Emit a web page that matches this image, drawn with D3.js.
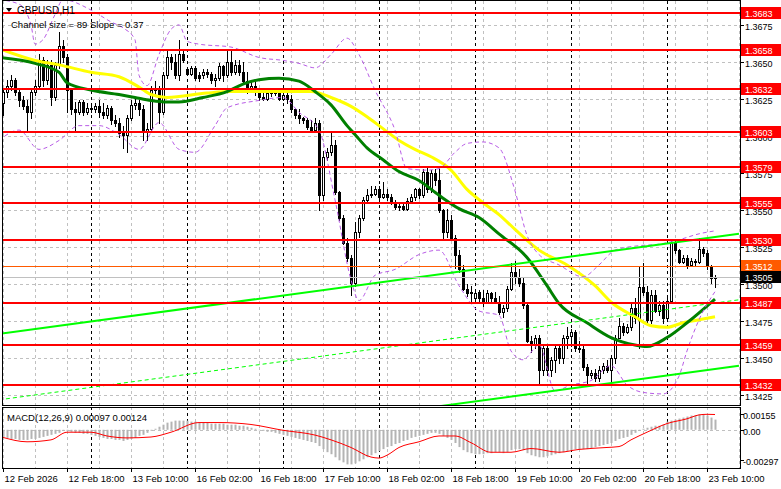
<!DOCTYPE html>
<html><head><meta charset="utf-8">
<script src="https://cdn.jsdelivr.net/npm/d3@7"></script>
<style>body{margin:0;background:#fff;}svg{display:block;font-family:"Liberation Sans",Arial,sans-serif;}</style>
</head><body><svg id="c" width="781" height="489"></svg>
<script>
const symbolTitle = "GBPUSD,H1";
const channelText = "Channel size = 89 Slope = 0.37";
const macdText = "MACD(12,26,9) 0.00097 0.00124";
const firstBar = 2;
const openP = [1.3622,1.3630,1.3634,1.3638,1.3630,1.3624,1.3620,1.3616,1.3630,1.3634,
1.3651,1.3638,1.3648,1.3626,1.3648,1.3661,1.3653,1.3631,1.3618,1.3616,
1.3623,1.3616,1.3619,1.3618,1.3620,1.3616,1.3614,1.3619,1.3611,1.3609,
1.3602,1.3601,1.3612,1.3621,1.3622,1.3618,1.3603,1.3605,1.3631,1.3632,
1.3616,1.3641,1.3653,1.3650,1.3641,1.3655,1.3645,1.3642,1.3646,1.3641,
1.3641,1.3643,1.3642,1.3638,1.3639,1.3647,1.3641,1.3650,1.3643,1.3648,
1.3643,1.3637,1.3631,1.3634,1.3630,1.3626,1.3625,1.3629,1.3630,1.3629,
1.3625,1.3628,1.3625,1.3618,1.3614,1.3612,1.3611,1.3606,1.3604,1.3609,
1.3560,1.3586,1.3589,1.3594,1.3562,1.3545,1.3528,1.3518,1.3501,1.3535,
1.3545,1.3557,1.3560,1.3561,1.3564,1.3559,1.3561,1.3559,1.3555,1.3552,
1.3553,1.3551,1.3556,1.3559,1.3564,1.3560,1.3576,1.3564,1.3575,1.3570,
1.3550,1.3535,1.3543,1.3531,1.3520,1.3510,1.3497,1.3494,1.3491,1.3495,
1.3491,1.3487,1.3494,1.3491,1.3488,1.3481,1.3484,1.3497,1.3508,1.3505,
1.3501,1.3486,1.3462,1.3460,1.3464,1.3442,1.3457,1.3442,1.3449,1.3457,
1.3450,1.3464,1.3465,1.3468,1.3457,1.3456,1.3444,1.3439,1.3440,1.3437,
1.3442,1.3445,1.3442,1.3450,1.3464,1.3472,1.3468,1.3471,1.3484,1.3476,
1.3498,1.3495,1.3476,1.3493,1.3482,1.3486,1.3477,1.3489,1.3528,1.3523,
1.3515,1.3518,1.3513,1.3516,1.3515,1.3524,1.3521,1.3512,1.3504];
const highP = [1.3632,1.3638,1.3641,1.3639,1.3632,1.3627,1.3624,1.3632,1.3638,1.3655,
1.3653,1.3651,1.3651,1.3650,1.3670,1.3665,1.3655,1.3632,1.3623,1.3624,
1.3624,1.3622,1.3622,1.3622,1.3624,1.3622,1.3621,1.3620,1.3614,1.3612,
1.3607,1.3614,1.3624,1.3626,1.3624,1.3621,1.3609,1.3634,1.3637,1.3634,
1.3643,1.3658,1.3655,1.3655,1.3665,1.3659,1.3646,1.3647,1.3647,1.3643,
1.3645,1.3645,1.3643,1.3642,1.3649,1.3648,1.3658,1.3659,1.3651,1.3651,
1.3650,1.3643,1.3637,1.3638,1.3632,1.3630,1.3631,1.3632,1.3631,1.3631,
1.3630,1.3630,1.3628,1.3619,1.3618,1.3613,1.3612,1.3611,1.3612,1.3611,
1.3590,1.3592,1.3603,1.3597,1.3563,1.3547,1.3531,1.3520,1.3542,1.3547,
1.3559,1.3564,1.3566,1.3566,1.3566,1.3569,1.3564,1.3561,1.3557,1.3555,
1.3555,1.3558,1.3561,1.3565,1.3565,1.3578,1.3580,1.3577,1.3578,1.3580,
1.3551,1.3551,1.3547,1.3533,1.3523,1.3513,1.3500,1.3499,1.3497,1.3496,
1.3496,1.3496,1.3495,1.3495,1.3492,1.3486,1.3499,1.3514,1.3516,1.3510,
1.3504,1.3487,1.3465,1.3466,1.3466,1.3459,1.3459,1.3451,1.3459,1.3459,
1.3466,1.3471,1.3470,1.3469,1.3462,1.3459,1.3446,1.3442,1.3443,1.3445,
1.3447,1.3449,1.3452,1.3466,1.3477,1.3474,1.3473,1.3488,1.3491,1.3512,
1.3514,1.3499,1.3496,1.3496,1.3489,1.3489,1.3493,1.3530,1.3530,1.3524,
1.3520,1.3520,1.3518,1.3517,1.3531,1.3525,1.3523,1.3513,1.3506];
const lowP = [1.3614,1.3626,1.3631,1.3628,1.3620,1.3618,1.3603,1.3612,1.3628,1.3632,
1.3634,1.3635,1.3621,1.3624,1.3646,1.3650,1.3616,1.3615,1.3603,1.3615,
1.3614,1.3615,1.3616,1.3616,1.3613,1.3612,1.3612,1.3608,1.3607,1.3599,
1.3592,1.3589,1.3611,1.3618,1.3614,1.3597,1.3597,1.3603,1.3627,1.3609,
1.3615,1.3639,1.3645,1.3639,1.3638,1.3650,1.3641,1.3641,1.3638,1.3637,
1.3639,1.3640,1.3636,1.3634,1.3638,1.3637,1.3640,1.3641,1.3642,1.3641,
1.3635,1.3629,1.3630,1.3628,1.3624,1.3624,1.3624,1.3627,1.3628,1.3624,
1.3624,1.3622,1.3616,1.3612,1.3609,1.3609,1.3605,1.3603,1.3603,1.3550,
1.3557,1.3584,1.3587,1.3561,1.3543,1.3527,1.3516,1.3493,1.3499,1.3532,
1.3543,1.3555,1.3559,1.3560,1.3557,1.3558,1.3557,1.3554,1.3551,1.3550,
1.3550,1.3550,1.3555,1.3557,1.3558,1.3559,1.3562,1.3562,1.3567,1.3549,
1.3531,1.3532,1.3530,1.3511,1.3508,1.3496,1.3492,1.3487,1.3489,1.3489,
1.3485,1.3487,1.3489,1.3487,1.3480,1.3478,1.3482,1.3496,1.3501,1.3499,
1.3484,1.3461,1.3454,1.3457,1.3432,1.3439,1.3439,1.3438,1.3441,1.3447,
1.3447,1.3457,1.3458,1.3455,1.3454,1.3442,1.3433,1.3437,1.3435,1.3435,
1.3440,1.3441,1.3433,1.3447,1.3464,1.3466,1.3467,1.3469,1.3474,1.3457,
1.3493,1.3474,1.3474,1.3481,1.3479,1.3474,1.3476,1.3488,1.3521,1.3514,
1.3514,1.3511,1.3512,1.3512,1.3514,1.3519,1.3510,1.3501,1.3498];
const closeP = [1.3630,1.3634,1.3638,1.3630,1.3624,1.3620,1.3616,1.3630,1.3634,1.3651,
1.3638,1.3648,1.3626,1.3648,1.3661,1.3653,1.3631,1.3618,1.3616,1.3623,
1.3616,1.3619,1.3618,1.3620,1.3616,1.3614,1.3619,1.3611,1.3609,1.3602,
1.3601,1.3612,1.3621,1.3622,1.3618,1.3603,1.3605,1.3631,1.3632,1.3616,
1.3641,1.3653,1.3650,1.3641,1.3655,1.3651,1.3642,1.3646,1.3639,1.3639,
1.3643,1.3642,1.3638,1.3639,1.3647,1.3641,1.3650,1.3643,1.3648,1.3643,
1.3637,1.3631,1.3634,1.3630,1.3626,1.3625,1.3629,1.3630,1.3629,1.3625,
1.3628,1.3625,1.3618,1.3614,1.3612,1.3611,1.3606,1.3604,1.3609,1.3560,
1.3586,1.3589,1.3594,1.3562,1.3545,1.3528,1.3518,1.3501,1.3535,1.3545,
1.3557,1.3560,1.3561,1.3564,1.3559,1.3561,1.3559,1.3555,1.3552,1.3553,
1.3551,1.3556,1.3559,1.3564,1.3560,1.3576,1.3564,1.3575,1.3570,1.3550,
1.3535,1.3543,1.3531,1.3520,1.3510,1.3497,1.3494,1.3495,1.3494,1.3491,
1.3487,1.3494,1.3491,1.3488,1.3481,1.3484,1.3497,1.3508,1.3505,1.3501,
1.3486,1.3462,1.3460,1.3464,1.3442,1.3457,1.3442,1.3449,1.3457,1.3450,
1.3464,1.3465,1.3468,1.3457,1.3456,1.3444,1.3439,1.3440,1.3437,1.3442,
1.3445,1.3442,1.3450,1.3464,1.3472,1.3468,1.3471,1.3484,1.3477,1.3498,
1.3495,1.3476,1.3493,1.3482,1.3486,1.3477,1.3489,1.3528,1.3523,1.3515,
1.3518,1.3513,1.3516,1.3515,1.3524,1.3521,1.3512,1.3504,1.3505];
const macdHist = [-0.0007,-0.0008,-0.0009,-0.0009,-0.0010,-0.0010,-0.0010,-0.0009,-0.0009,-0.0008,-0.0007,-0.0006,
-0.0005,-0.0004,-0.0003,-0.0001,
-0.0001,-0.0002,-0.0003,-0.0003,-0.0004,-0.0004,
-0.0005,-0.0006,-0.0007,-0.0008,-0.0009,-0.0009,-0.0010,-0.0010,-0.0011,-0.0010,
-0.0009,-0.0008,-0.0006,-0.0005,-0.0003,-0.0001,0.0001,
0.0003,0.0005,0.0007,0.0008,0.0009,0.0009,0.0009,
0.0009,0.0008,0.0008,0.0007,0.0007,0.0007,0.0006,0.0006,0.0006,0.0006,0.0005,0.0005,0.0005,0.0004,0.0004,0.0003,
0.0002,0.0001,0.0000,-0.0001,-0.0002,-0.0002,-0.0003,-0.0004,-0.0005,
-0.0006,-0.0007,-0.0008,-0.0009,-0.0010,-0.0011,-0.0012,-0.0013,-0.0016,
-0.0019,-0.0022,-0.0024,-0.0027,-0.0030,-0.0032,-0.0034,-0.0034,-0.0033,
-0.0031,-0.0029,-0.0027,-0.0025,-0.0023,-0.0021,
-0.0019,-0.0017,-0.0016,-0.0014,-0.0013,-0.0011,-0.0010,-0.0008,-0.0007,-0.0006,
-0.0005,-0.0004,-0.0003,-0.0003,-0.0004,-0.0006,-0.0008,-0.0010,-0.0013,
-0.0017,-0.0020,-0.0022,-0.0023,-0.0024,-0.0024,-0.0024,-0.0023,-0.0023,
-0.0022,-0.0022,-0.0023,-0.0022,-0.0020,-0.0019,-0.0019,-0.0020,-0.0023,-0.0025,
-0.0026,-0.0027,-0.0027,-0.0026,-0.0025,-0.0024,-0.0023,-0.0022,-0.0021,
-0.0020,-0.0019,-0.0019,-0.0019,-0.0019,-0.0018,-0.0017,-0.0016,-0.0015,
-0.0014,-0.0013,-0.0011,-0.0009,-0.0008,-0.0007,-0.0005,-0.0003,-0.0001,
0.0001,0.0002,0.0003,0.0004,0.0004,0.0005,0.0008,0.0009,
0.0010,0.0011,0.0012,0.0013,0.0014,0.0014,0.0015,0.0015,0.0014,0.0012,0.0010];
const signalBars = [2,8,14,18,24,28,33,39,44,51,56,64,72,80,84,89,94,96,98,101,106,111,115,119,124,129,134,141,146,153,156,159,163,168,173,176,178,180];
const signalVals = [-0.00075,-0.00118,-0.00099,-0.00024,-0.00024,-0.00061,-0.00080,-0.00071,-0.00024,0.00071,0.00071,0.00052,-0.00005,-0.00052,-0.00099,-0.00174,-0.00268,-0.00278,-0.00250,-0.00174,-0.00118,-0.00061,-0.00061,-0.00127,-0.00221,-0.00221,-0.00184,-0.00221,-0.00193,-0.00174,-0.00165,-0.00099,-0.00024,0.00061,0.00108,0.00146,0.00152,0.00150];
const slowMaBars = [1,10,16,24,31,36,39,43,53,59,66,72,79,84,89,93,97,101,105,109,114,118,122,126,130,136,143,150,154,160,164,168,172,176,180];
const slowMaVals = [1.3659,1.3651,1.3648,1.3643,1.3640,1.3633,1.3628,1.3626,1.3629,1.3630,1.3630,1.3630,1.3630,1.3626,1.3620,1.3613,1.3605,1.3597,1.3591,1.3586,1.3577,1.3564,1.3555,1.3547,1.3537,1.3523,1.3513,1.3499,1.3488,1.3478,1.3472,1.3471,1.3474,1.3476,1.3478];
const fastMaBars = [1,10,16,18,24,31,35,39,43,46,52,58,62,66,71,76,80,84,88,90,93,97,101,106,111,116,121,126,133,138,141,148,154,160,163,168,173,180];
const fastMaVals = [1.3653,1.3649,1.3643,1.3636,1.3631,1.3628,1.3626,1.3624,1.3623,1.3623,1.3626,1.3630,1.3635,1.3638,1.3639,1.3637,1.3630,1.3621,1.3607,1.3601,1.3592,1.3584,1.3576,1.3570,1.3560,1.3551,1.3545,1.3534,1.3518,1.3499,1.3487,1.3474,1.3464,1.3459,1.3458,1.3464,1.3474,1.3490];
const upperBandBars = [1,6,9,10,12,15,17,24,29,32,35,36,38,41,44,46,48,51,59,66,72,76,80,84,88,91,95,100,103,108,111,115,118,122,126,130,133,136,141,147,151,155,161,166,171,176,180];
const upperBandVals = [1.3692,1.3689,1.3675,1.3662,1.3665,1.3682,1.3692,1.3685,1.3677,1.3673,1.3665,1.3641,1.3634,1.3655,1.3672,1.3675,1.3664,1.3662,1.3660,1.3653,1.3651,1.3649,1.3646,1.3655,1.3666,1.3655,1.3631,1.3604,1.3578,1.3577,1.3578,1.3589,1.3595,1.3596,1.3592,1.3563,1.3533,1.3520,1.3513,1.3505,1.3513,1.3523,1.3526,1.3527,1.3530,1.3534,1.3536];
const lowerBandBars = [1,6,11,16,21,26,31,36,41,46,50,55,58,66,72,76,81,85,89,91,95,100,106,111,116,121,126,129,132,136,140,144,149,154,158,162,167,171,173,176,180];
const lowerBandVals = [1.3597,1.3604,1.3591,1.3597,1.3607,1.3607,1.3601,1.3591,1.3609,1.3591,1.3589,1.3607,1.3619,1.3624,1.3626,1.3616,1.3604,1.3557,1.3503,1.3489,1.3506,1.3510,1.3520,1.3523,1.3499,1.3482,1.3479,1.3455,1.3449,1.3459,1.3428,1.3432,1.3435,1.3445,1.3432,1.3427,1.3426,1.3438,1.3455,1.3476,1.3495];
const channelBars = [1,186];
const channelMid = [1.3422,1.34895];
const channelHalf = 0.00445;
const levelPrices = [1.3683,1.3658,1.3632,1.3603,1.3579,1.3555,1.3530,1.3487,1.3459,1.3432];
const orangeLevel = 1.3512;
const bidPrice = 1.3505;
const priceTicks = [1.3675,1.3650,1.3625,1.3600,1.3575,1.3550,1.3525,1.3500,1.3475,1.3450,1.3425];
const timeLabelBars = [2,18,34,50,66,82,98,114,130,146,162,178];
const timeLabels = ["12 Feb 2026","12 Feb 18:00","13 Feb 10:00","16 Feb 02:00","16 Feb 18:00","17 Feb 10:00","18 Feb 02:00","18 Feb 18:00","19 Feb 10:00","20 Feb 02:00","20 Feb 18:00","23 Feb 10:00"];
const daySeparatorBars = [24,48,72,96,120,144,168];
const macdTicks = [0.00155,0,-0.00297];
const macdTickLabels = ["0.00155","0.00","-0.00297"];

const svg = d3.select("#c");
const R = 740, MT = 1, MB = 405, ST = 407, SB = 468;
const x = d3.scaleLinear().domain([2,180]).range([3,715]);
const y = d3.scaleLinear().domain([1.3432,1.3683]).range([385,13]);
const ym = d3.scaleLinear().domain([-0.00297,0.00155]).range([460,414]);
const FS = "9.5px", AFS = "9px";

const defs = svg.append("defs");
defs.append("clipPath").attr("id","cm").append("rect").attr("x",2).attr("y",MT).attr("width",R-2).attr("height",MB-MT);
defs.append("clipPath").attr("id","cs").append("rect").attr("x",2).attr("y",ST).attr("width",R-2).attr("height",SB-ST);

const gm = svg.append("g").attr("clip-path","url(#cm)");
const gs = svg.append("g").attr("clip-path","url(#cs)");

// grid
const gridBars = d3.range(2, 187, 8);
[gm, gs].forEach((g, k) => {
  const t = k ? ST : MT, b = k ? SB : MB;
  g.selectAll("line.vg").data(gridBars).join("line")
    .attr("x1", d => x(d)+0.5).attr("x2", d => x(d)+0.5).attr("y1", t).attr("y2", b)
    .attr("stroke","#c0c0c0").attr("stroke-dasharray","3,3");
});
gm.selectAll("line.hg").data(priceTicks).join("line")
  .attr("x1",2).attr("x2",R).attr("y1",d=>Math.round(y(d))+0.5).attr("y2",d=>Math.round(y(d))+0.5)
  .attr("stroke","#c0c0c0").attr("stroke-dasharray","3,3");
gs.append("line").attr("x1",2).attr("x2",R).attr("y1",Math.round(ym(0))+0.5).attr("y2",Math.round(ym(0))+0.5)
  .attr("stroke","#c0c0c0").attr("stroke-dasharray","3,3");
[gm, gs].forEach((g, k) => {
  const t = k ? ST : MT, b = k ? SB : MB;
  g.selectAll("line.sep").data(daySeparatorBars).join("line")
    .attr("x1", d => x(d)+0.5).attr("x2", d => x(d)+0.5).attr("y1", t).attr("y2", b)
    .attr("stroke","#000").attr("stroke-dasharray","3,3");
});

// candles
const bars = closeP.map((c,k)=>({i:firstBar+k,o:openP[k],h:highP[k],l:lowP[k],c:c}));
const cg = gm.append("g");
bars.forEach(d=>{
  const cx = Math.round(x(d.i));
  cg.append("line").attr("x1",cx+0.5).attr("x2",cx+0.5).attr("y1",Math.round(y(d.h))).attr("y2",Math.round(y(d.l))+1)
    .attr("stroke","#000").attr("stroke-width",1);
  const top = Math.round(y(Math.max(d.o,d.c))), bot = Math.round(y(Math.min(d.o,d.c)));
  if (d.c > d.o) {
    cg.append("rect").attr("x",cx-0.5).attr("y",top+0.5).attr("width",2).attr("height",Math.max(bot-top,1))
      .attr("fill","#fff").attr("stroke","#000").attr("stroke-width",1);
  } else {
    cg.append("rect").attr("x",cx-1).attr("y",top).attr("width",3).attr("height",Math.max(bot-top,1)+1).attr("fill","#000");
  }
});

// moving averages
const lineGen = d3.line().x(d=>x(d[0])).y(d=>y(d[1])).curve(d3.curveMonotoneX);
gm.append("path").attr("d",lineGen(slowMaBars.map((b,k)=>[b,slowMaVals[k]]))).attr("fill","none").attr("stroke","#ffff00").attr("stroke-width",3);
gm.append("path").attr("d",lineGen(fastMaBars.map((b,k)=>[b,fastMaVals[k]]))).attr("fill","none").attr("stroke","#008000").attr("stroke-width",3);
// bands
gm.append("path").attr("d",lineGen(upperBandBars.map((b,k)=>[b,upperBandVals[k]]))).attr("fill","none").attr("stroke","#b85ce6").attr("stroke-width",1).attr("stroke-dasharray","4,3");
gm.append("path").attr("d",lineGen(lowerBandBars.map((b,k)=>[b,lowerBandVals[k]]))).attr("fill","none").attr("stroke","#b85ce6").attr("stroke-width",1).attr("stroke-dasharray","4,3");

// channel
const chLine = d3.line().x(d=>x(d[0])).y(d=>y(d[1]));
gm.append("path").attr("d",chLine(channelBars.map((b,k)=>[b,channelMid[k]+channelHalf]))).attr("stroke","#00ff00").attr("stroke-width",2).attr("fill","none");
gm.append("path").attr("d",chLine(channelBars.map((b,k)=>[b,channelMid[k]-channelHalf]))).attr("stroke","#00ff00").attr("stroke-width",2).attr("fill","none");
gm.append("path").attr("d",chLine(channelBars.map((b,k)=>[b,channelMid[k]]))).attr("stroke","#00ff00").attr("stroke-width",1).attr("stroke-dasharray","4,3").attr("fill","none");

// levels
gm.append("line").attr("x1",2).attr("x2",R).attr("y1",Math.round(y(bidPrice))+0.5).attr("y2",Math.round(y(bidPrice))+0.5).attr("stroke","#c0c0c0");
gm.append("line").attr("x1",2).attr("x2",R).attr("y1",Math.round(y(orangeLevel))+0.5).attr("y2",Math.round(y(orangeLevel))+0.5).attr("stroke","#ff5a00");
gm.selectAll("line.lv").data(levelPrices).join("line")
  .attr("x1",2).attr("x2",R).attr("y1",d=>Math.round(y(d))).attr("y2",d=>Math.round(y(d)))
  .attr("stroke","#ff0000").attr("stroke-width",2);

// MACD
const hw = 2;
gs.selectAll("rect.h").data(macdHist).join("rect")
  .attr("x",(d,k)=>Math.round(x(firstBar+k))-0.5).attr("width",hw)
  .attr("y",d=>Math.min(ym(d),ym(0))).attr("height",d=>Math.max(Math.abs(ym(d)-ym(0)),0.5))
  .attr("fill","#b4b4b4");
gs.append("path").attr("d",d3.line().x(d=>x(d[0])).y(d=>ym(d[1])).curve(d3.curveMonotoneX)(signalBars.map((b,k)=>[b,signalVals[k]])))
  .attr("fill","none").attr("stroke","#ff0000").attr("stroke-width",1);

// frames
svg.append("rect").attr("x",2.5).attr("y",0.5).attr("width",R-2).attr("height",MB).attr("fill","none").attr("stroke","#000");
svg.append("rect").attr("x",2.5).attr("y",ST+0.5).attr("width",R-2).attr("height",SB-ST).attr("fill","none").attr("stroke","#000");

// texts
svg.append("path").attr("d","M6,8 L12,8 L9,12 Z").attr("fill","#000");
svg.append("text").attr("x",17).attr("y",14).attr("font-size","10px").text(symbolTitle);
svg.append("text").attr("x",11).attr("y",27.5).attr("font-size",FS).text(channelText);
svg.append("text").attr("x",7).attr("y",420.5).attr("font-size",FS).text(macdText);

// price axis
const pa = svg.append("g");
priceTicks.forEach(p=>{
  const yy = Math.round(y(p))+0.5;
  pa.append("line").attr("x1",R).attr("x2",R+4).attr("y1",yy).attr("y2",yy).attr("stroke","#000");
  pa.append("text").attr("x",R+5).attr("y",yy+4).attr("font-size",AFS).text(p.toFixed(4));
});
macdTicks.forEach((v,k)=>{
  const yy = Math.round(ym(v))+0.5;
  pa.append("line").attr("x1",R).attr("x2",R+4).attr("y1",yy).attr("y2",yy).attr("stroke","#000");
  pa.append("text").attr("x",R+3).attr("y",yy+4).attr("font-size",AFS).text(macdTickLabels[k]);
});
function box(p, fill){
  const yy = Math.round(y(p));
  pa.append("rect").attr("x",R+1).attr("y",yy-6).attr("width",41).attr("height",12).attr("fill",fill);
  pa.append("text").attr("x",R+5).attr("y",yy+4).attr("font-size",AFS).attr("fill","#fff").text(p.toFixed(4));
}
levelPrices.forEach(p=>box(p,"#ff0000"));
box(orangeLevel,"#ff5a00");
box(bidPrice,"#000");

// time axis
timeLabelBars.forEach((b,k)=>{
  const xx = Math.round(x(b))+0.5;
  svg.append("line").attr("x1",xx).attr("x2",xx).attr("y1",SB).attr("y2",SB+4).attr("stroke","#000");
  svg.append("text").attr("x",xx+1).attr("y",482).attr("font-size",FS).text(timeLabels[k]);
});
</script></body></html>
